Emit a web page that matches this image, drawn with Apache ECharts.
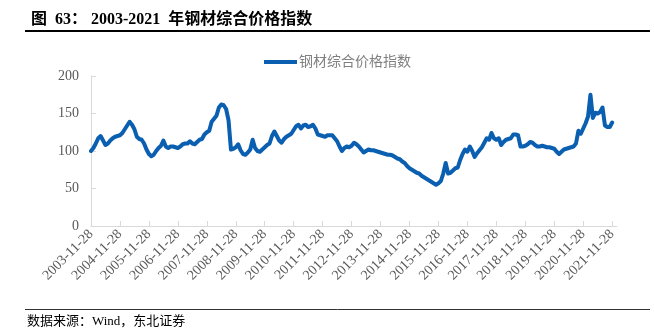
<!DOCTYPE html>
<html>
<head>
<meta charset="utf-8">
<script src="https://cdn.jsdelivr.net/npm/echarts@6/dist/echarts.min.js"></script>
<style>
  html, body { margin: 0; padding: 0; background: #fff; }
  #chart { width: 654px; height: 328px; }
</style>
</head>
<body>
<div id="chart"></div>
<script>
// Year labels shown on the horizontal axis (one every 12 monthly points)
const tickLabels = [
  '2003-11-28', '2004-11-28', '2005-11-28', '2006-11-28', '2007-11-28',
  '2008-11-28', '2009-11-28', '2010-11-28', '2011-11-28', '2012-11-28',
  '2013-11-28', '2014-11-28', '2015-11-28', '2016-11-28', '2017-11-28',
  '2018-11-28', '2019-11-28', '2020-11-28', '2021-11-28'
];

// Monthly steel composite price index, 2003-11 onwards
const steelIndex = [
  100, 104, 110, 117, 120, 114, 108, 110, 114, 117, 119, 120,
  121, 124, 129, 134, 139, 135, 129, 119, 116, 115, 110, 102,
  96, 93, 95, 100, 104, 107, 114, 106, 104, 106, 106, 105,
  104, 106, 109, 110, 110, 113, 110, 109, 112, 115, 116, 122,
  125, 127, 139, 143, 147, 158, 162, 161, 156, 141, 102, 103,
  105, 109, 101, 96, 95, 98, 102, 115, 104, 100, 99, 102,
  105, 108, 110, 120, 126, 120, 114, 111, 116, 119, 121, 123,
  128, 133, 135, 130, 134, 135, 132, 133, 135, 130, 122, 121,
  120, 119, 121, 121, 121, 117, 113, 106, 100, 104, 106, 105,
  107, 111, 109, 106, 102, 98, 100, 102, 101, 101, 100, 99,
  98, 97, 96, 95, 95, 94, 92, 90, 89, 86, 84, 80,
  77, 75, 73, 71, 70, 67, 65, 63, 61, 59, 57, 55,
  57, 60, 70, 84, 70, 71, 74, 77, 78, 88, 96, 102,
  99, 106, 100, 92, 97, 101, 105, 111, 117, 115, 124, 117,
  115, 117, 108, 112, 115, 116, 117, 122, 122, 121, 106, 106,
  107, 109, 112, 111, 108, 106, 106, 107, 106, 105, 105, 104,
  103, 99, 96, 99, 102, 103, 104, 105, 106, 110, 127, 123,
  130, 137, 146, 175, 144, 151, 150, 152, 158, 134, 132, 132,
  138, null, null
];

const seriesName = '钢材综合价格指数';
const yTicks = { min: 0, max: 200, step: 50 };

// Monthly category axis: one slot per value; year labels land on every 12th slot
const categories = steelIndex.map((_, i) => {
  const year = tickLabels[Math.floor(i / 12)];
  return year && i % 12 === 0 ? year : String(i);
});

const serif = '"Liberation Serif", "Noto Sans CJK SC", serif';

const chart = echarts.init(document.getElementById('chart'), null, { renderer: 'canvas' });
chart.setOption({
  animation: false,
  backgroundColor: '#ffffff',
  title: {
    text: '图  63： 2003-2021  年钢材综合价格指数',
    left: 26,
    top: 7,
    textStyle: { fontFamily: serif, fontSize: 16, fontWeight: 'bold', color: '#000' }
  },
  legend: {
    data: [seriesName],
    left: 259,
    top: 50,
    icon: 'rect',
    itemWidth: 33,
    itemHeight: 4,
    itemGap: 6,
    textStyle: { fontFamily: serif, fontSize: 14, color: '#808080', padding: [0, 0, 0, -3] }
  },
  grid: { left: 91, right: 37, top: 76, bottom: 102, containLabel: false },
  xAxis: {
    type: 'category',
    data: categories,
    boundaryGap: false,
    axisLine: { show: true, lineStyle: { color: '#d9d9d9', width: 1 } },
    axisTick: { show: true, inside: true, length: 5, interval: 11, lineStyle: { color: '#d9d9d9' } },
    axisLabel: {
      interval: 11,
      rotate: 45,
      margin: 6,
      fontFamily: serif,
      fontSize: 14,
      color: '#595959'
    },
    splitLine: { show: false }
  },
  yAxis: {
    type: 'value',
    min: yTicks.min,
    max: yTicks.max,
    interval: yTicks.step,
    axisLine: { show: true, lineStyle: { color: '#d9d9d9', width: 1 } },
    axisTick: { show: true, inside: true, length: 5, lineStyle: { color: '#d9d9d9' } },
    axisLabel: { margin: 12, fontFamily: serif, fontSize: 14, color: '#595959' },
    splitLine: { show: false }
  },
  series: [{
    name: seriesName,
    type: 'line',
    data: steelIndex,
    symbol: 'none',
    smooth: false,
    connectNulls: false,
    lineStyle: { color: '#0a5fb0', width: 4, join: 'round', cap: 'round' },
    itemStyle: { color: '#0a5fb0' }
  }],
  graphic: [
    { type: 'line', shape: { x1: 25, y1: 31, x2: 650, y2: 31 }, style: { stroke: '#000', lineWidth: 2 } },
    { type: 'line', shape: { x1: 25, y1: 309.5, x2: 650, y2: 309.5 }, style: { stroke: '#333', lineWidth: 1 } },
    {
      type: 'text',
      left: 27,
      top: 315,
      style: { text: '数据来源：Wind，东北证券', fontFamily: serif, fontSize: 13, fill: '#000' }
    }
  ]
});
</script>
</body>
</html>
